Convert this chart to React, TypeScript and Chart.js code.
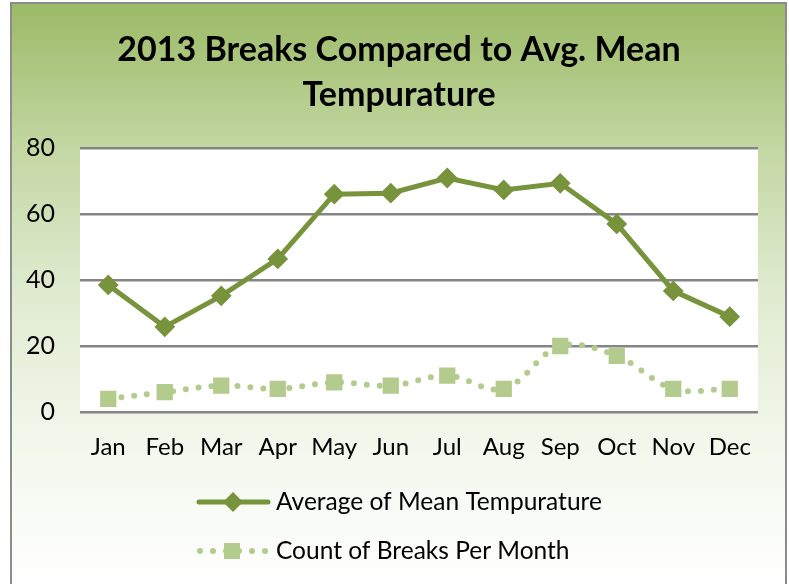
import React, { useEffect, useRef } from 'react';
import { Chart, registerables } from 'chart.js';

Chart.register(...registerables);

const months = ['Jan', 'Feb', 'Mar', 'Apr', 'May', 'Jun', 'Jul', 'Aug', 'Sep', 'Oct', 'Nov', 'Dec'];
const avgMeanTemp = [38.5, 25.8, 35.2, 46.4, 66.0, 66.3, 70.9, 67.3, 69.3, 57.0, 36.7, 28.9];
const breaksPerMonth = [4, 6, 8, 7, 9, 8, 11, 7, 20, 17, 7, 7];
const titleLines = ['2013 Breaks Compared to Avg. Mean', 'Tempurature'];
const seriesNames = ['Average of Mean Tempurature', 'Count of Breaks Per Month'];

const DARK = '#77933C';
const LIGHT = '#B3CB8D';
const FONT = 'Lato, "Open Sans", sans-serif';

const backgroundPlugin = {
  id: 'bgPlugin',
  beforeDraw(chart: any) {
    const { ctx, width, height, chartArea } = chart;
    ctx.save();
    ctx.fillStyle = '#ffffff';
    ctx.fillRect(0, 0, width, height);
    const g = ctx.createLinearGradient(0, 3, 0, height);
    g.addColorStop(0, '#9BBA66');
    g.addColorStop(0.25, '#C3D7A2');
    g.addColorStop(0.5, '#E0EBD0');
    g.addColorStop(0.75, '#F2F7EB');
    g.addColorStop(1, '#FFFFFF');
    ctx.fillStyle = g;
    ctx.fillRect(11, 3, 775, height);
    ctx.strokeStyle = '#8C8C8C';
    ctx.lineWidth = 2;
    ctx.strokeRect(11, 3, 775, height + 10);
    ctx.fillStyle = '#ffffff';
    ctx.fillRect(chartArea.left, chartArea.top, chartArea.right - chartArea.left, chartArea.bottom - chartArea.top);
    ctx.restore();
  },
  afterDraw(chart: any) {
    const { ctx } = chart;
    ctx.save();
    // title
    ctx.fillStyle = '#000000';
    ctx.font = `bold 34px ${FONT}`;
    ctx.textAlign = 'center';
    ctx.textBaseline = 'middle';
    ctx.fillText(titleLines[0], 399, 50);
    ctx.fillText(titleLines[1], 399, 95);
    // legend item 1
    let y = 502;
    ctx.strokeStyle = DARK;
    ctx.lineWidth = 5;
    ctx.lineCap = 'round';
    ctx.beginPath();
    ctx.moveTo(199, y);
    ctx.lineTo(268, y);
    ctx.stroke();
    ctx.fillStyle = DARK;
    ctx.beginPath();
    ctx.moveTo(233 - 10, y);
    ctx.lineTo(233, y - 10);
    ctx.lineTo(233 + 10, y);
    ctx.lineTo(233, y + 10);
    ctx.closePath();
    ctx.fill();
    // legend item 2
    y = 551;
    ctx.strokeStyle = LIGHT;
    ctx.lineWidth = 6;
    ctx.setLineDash([0, 13]);
    ctx.beginPath();
    ctx.moveTo(200, y);
    ctx.lineTo(266, y);
    ctx.stroke();
    ctx.setLineDash([]);
    ctx.fillStyle = LIGHT;
    ctx.fillRect(232 - 8, y - 8, 16, 16);
    // legend texts
    ctx.fillStyle = '#000000';
    ctx.font = `24.5px ${FONT}`;
    ctx.textBaseline = 'middle';
    ctx.textAlign = 'left';
    ctx.fillText(seriesNames[0], 276, 502);
    ctx.fillText(seriesNames[1], 276, 551);
    ctx.restore();
  },
};

export default function App() {
  const ref = useRef<HTMLCanvasElement | null>(null);
  useEffect(() => {
    document.body.style.margin = '0';
    const chart = new Chart(ref.current as HTMLCanvasElement, {
      type: 'line',
      data: {
        labels: months,
        datasets: [
          {
            label: seriesNames[0],
            data: avgMeanTemp,
            borderColor: DARK,
            backgroundColor: DARK,
            borderWidth: 5,
            pointStyle: 'rectRot',
            pointRadius: 9,
            pointBorderWidth: 2,
            pointBackgroundColor: DARK,
            pointBorderColor: DARK,
            tension: 0,
          },
          {
            label: seriesNames[1],
            data: breaksPerMonth,
            borderColor: LIGHT,
            backgroundColor: LIGHT,
            borderWidth: 6,
            borderDash: [0, 13],
            borderCapStyle: 'round',
            pointStyle: 'rect',
            pointRadius: 11.5,
            pointBorderWidth: 0,
            pointBackgroundColor: LIGHT,
            pointBorderColor: LIGHT,
            tension: 0.35,
          },
        ],
      },
      options: {
        animation: false,
        responsive: false,
        layout: { padding: { left: 0, right: 31, top: 148, bottom: 112 } },
        plugins: {
          legend: { display: false },
          tooltip: { enabled: false },
          title: { display: false },
        },
        scales: {
          x: {
            offset: true,
            grid: { display: false },
            border: { display: false },
            ticks: { color: '#000000', font: { family: FONT, size: 24 }, padding: 13, maxRotation: 0 },
            afterFit(scale: any) {
              scale.height = 60;
            },
          },
          y: {
            min: 0,
            max: 80,
            grid: { color: '#858585', lineWidth: 2.5, drawTicks: false },
            border: { display: false },
            ticks: { stepSize: 20, color: '#000000', font: { family: FONT, size: 25 }, padding: 25 },
            afterFit(scale: any) {
              scale.width = 80;
            },
          },
        },
      },
      plugins: [backgroundPlugin],
    });
    return () => chart.destroy();
  }, []);
  return (
    <div style={{ width: 789, height: 584, position: 'relative' }}>
      <canvas ref={ref} width={789} height={584} style={{ display: 'block' }} />
    </div>
  );
}
